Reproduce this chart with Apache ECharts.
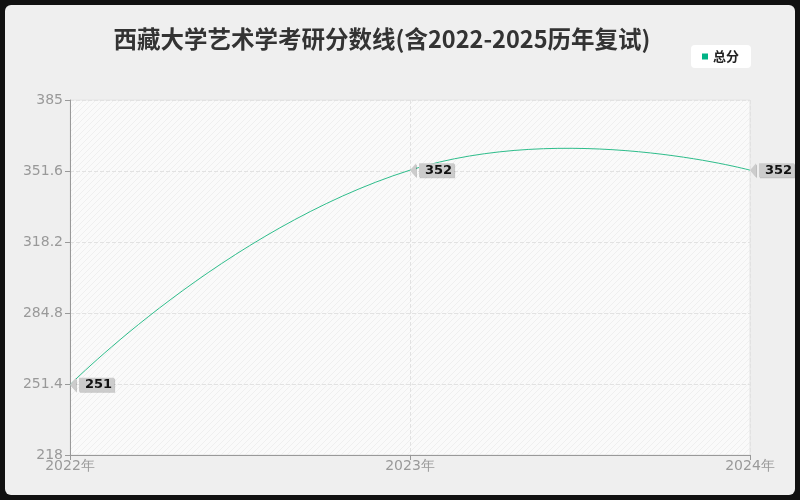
<!DOCTYPE html>
<html>
<head>
    <meta charset="utf-8">
    <title>ECharts</title>
    <script src="https://cdn.jsdelivr.net/npm/echarts@6/dist/echarts.min.js"></script>
    <style>
        html, body { margin: 0; padding: 0; background: #111; }
        #main { position: absolute; left: 5px; top: 5px; width: 790px; height: 490px; background: #efefef; border-radius: 6px; overflow: hidden; }
    </style>
</head>
<body>
    <div id="main"></div>
    <script type="text/javascript">
        var myChart = echarts.init(document.getElementById('main'));

        var years = ['2022年', '2023年', '2024年'];
        var totalScores = [251, 352, 352];
        var yMin = 218, yMax = 385, yStep = 33.4;

        // 左尖角的标签箭头
        var arrow = 'path://M0,7 L6,0 L6,14 Z';

        // 网格背景的斜线纹理
        var hatch = document.createElement('canvas');
        hatch.width = 6; hatch.height = 6;
        var hctx = hatch.getContext('2d');
        hctx.fillStyle = '#fafafa';
        hctx.fillRect(0, 0, 6, 6);
        hctx.strokeStyle = 'rgba(0,0,0,0.045)';
        hctx.lineWidth = 1;
        hctx.beginPath();
        hctx.moveTo(0, 6); hctx.lineTo(6, 0);
        hctx.moveTo(-1, 1); hctx.lineTo(1, -1);
        hctx.moveTo(5, 7); hctx.lineTo(7, 5);
        hctx.stroke();

        // 老式平滑曲线(允许越过端点)
        function smoothCurve(params, api) {
            if (params.dataIndex !== 0) return;
            var pts = totalScores.map(function (v, i) { return api.coord([i, v]); });
            var s = 0.5, cps = [];
            for (var i = 0; i < pts.length; i++) {
                var p = pts[i];
                if (i === 0 || i === pts.length - 1) { cps.push(p.slice()); continue; }
                var a = pts[i - 1], b = pts[i + 1];
                var vx = (b[0] - a[0]) * s, vy = (b[1] - a[1]) * s;
                var d0 = Math.hypot(p[0] - a[0], p[1] - a[1]);
                var d1 = Math.hypot(b[0] - p[0], b[1] - p[1]);
                var sum = d0 + d1;
                d0 /= sum; d1 /= sum;
                cps.push([p[0] - vx * d0, p[1] - vy * d0]);
                cps.push([p[0] + vx * d1, p[1] + vy * d1]);
            }
            var children = [];
            for (var j = 0; j < pts.length - 1; j++) {
                var c1 = cps[j * 2], c2 = cps[j * 2 + 1];
                children.push({
                    type: 'bezierCurve',
                    shape: {
                        x1: pts[j][0], y1: pts[j][1],
                        x2: pts[j + 1][0], y2: pts[j + 1][1],
                        cpx1: c1[0], cpy1: c1[1], cpx2: c2[0], cpy2: c2[1]
                    },
                    style: { stroke: '#2ebd8b', lineWidth: 1, fill: null }
                });
            }
            return { type: 'group', children: children };
        }

        var option = {
            animation: false,
            title: {
                text: '西藏大学艺术学考研分数线(含2022-2025历年复试)',
                left: 372,
                top: 17,
                textAlign: 'center',
                textStyle: { fontSize: 23.5, fontWeight: 'bold', color: '#333', fontFamily: 'Noto Sans CJK SC' }
            },
            legend: {
                data: [{ name: '总分', itemStyle: { color: '#00b386' } }],
                right: 44,
                top: 40,
                backgroundColor: '#fff',
                borderRadius: 4,
                padding: [5, 12, 5, 11],
                itemWidth: 6,
                itemHeight: 6,
                itemGap: 4,
                icon: 'rect',
                textStyle: { fontSize: 13, fontWeight: 'bold', color: '#222', fontFamily: 'Noto Sans CJK SC' }
            },
            grid: {
                left: 65, right: 45, top: 95, bottom: 40,
                show: true,
                backgroundColor: { image: hatch, repeat: 'repeat' },
                borderColor: '#e4e4e4',
                borderWidth: 1
            },
            xAxis: {
                type: 'category',
                data: years,
                boundaryGap: false,
                axisLine: { lineStyle: { color: '#999' } },
                axisTick: { show: true, lineStyle: { color: '#999' } },
                axisLabel: { color: '#999', fontSize: 14, fontFamily: 'DejaVu Sans', margin: 4 },
                splitLine: { show: true, lineStyle: { type: 'dashed', color: '#e2e2e2' } }
            },
            yAxis: {
                type: 'value',
                min: yMin,
                max: yMax,
                interval: yStep,
                axisLine: { show: true, lineStyle: { color: '#999' } },
                axisTick: { show: true, lineStyle: { color: '#999' } },
                axisLabel: { color: '#999', fontSize: 14, fontFamily: 'DejaVu Sans', margin: 7 },
                splitLine: { show: true, lineStyle: { type: 'dashed', color: '#e2e2e2' } }
            },
            series: [{
                name: '曲线',
                type: 'custom',
                silent: true,
                z: 2,
                data: totalScores.map(function (v, i) { return [i, v]; }),
                encode: { x: 0, y: 1 },
                renderItem: smoothCurve
            }, {
                name: '总分',
                type: 'line',
                z: 3,
                data: totalScores,
                symbol: arrow,
                symbolSize: [6, 14],
                symbolOffset: [3, 0],
                showSymbol: true,
                itemStyle: { color: '#cccccc', shadowColor: 'rgba(0,0,0,0.2)', shadowOffsetX: 1, shadowOffsetY: 1 },
                lineStyle: { width: 0, opacity: 0 },
                label: {
                    show: true,
                    position: 'right',
                    distance: 0,
                    offset: [3, 0],
                    color: '#111',
                    fontSize: 13,
                    fontWeight: 'bold',
                    fontFamily: 'DejaVu Sans',
                    backgroundColor: '#cccccc',
                    padding: [1, 2, 0, 6],
                    shadowColor: 'rgba(0,0,0,0.2)',
                    shadowOffsetX: 1,
                    shadowOffsetY: 1
                }
            }]
        };

        myChart.setOption(option);
    </script>
</body>
</html>
